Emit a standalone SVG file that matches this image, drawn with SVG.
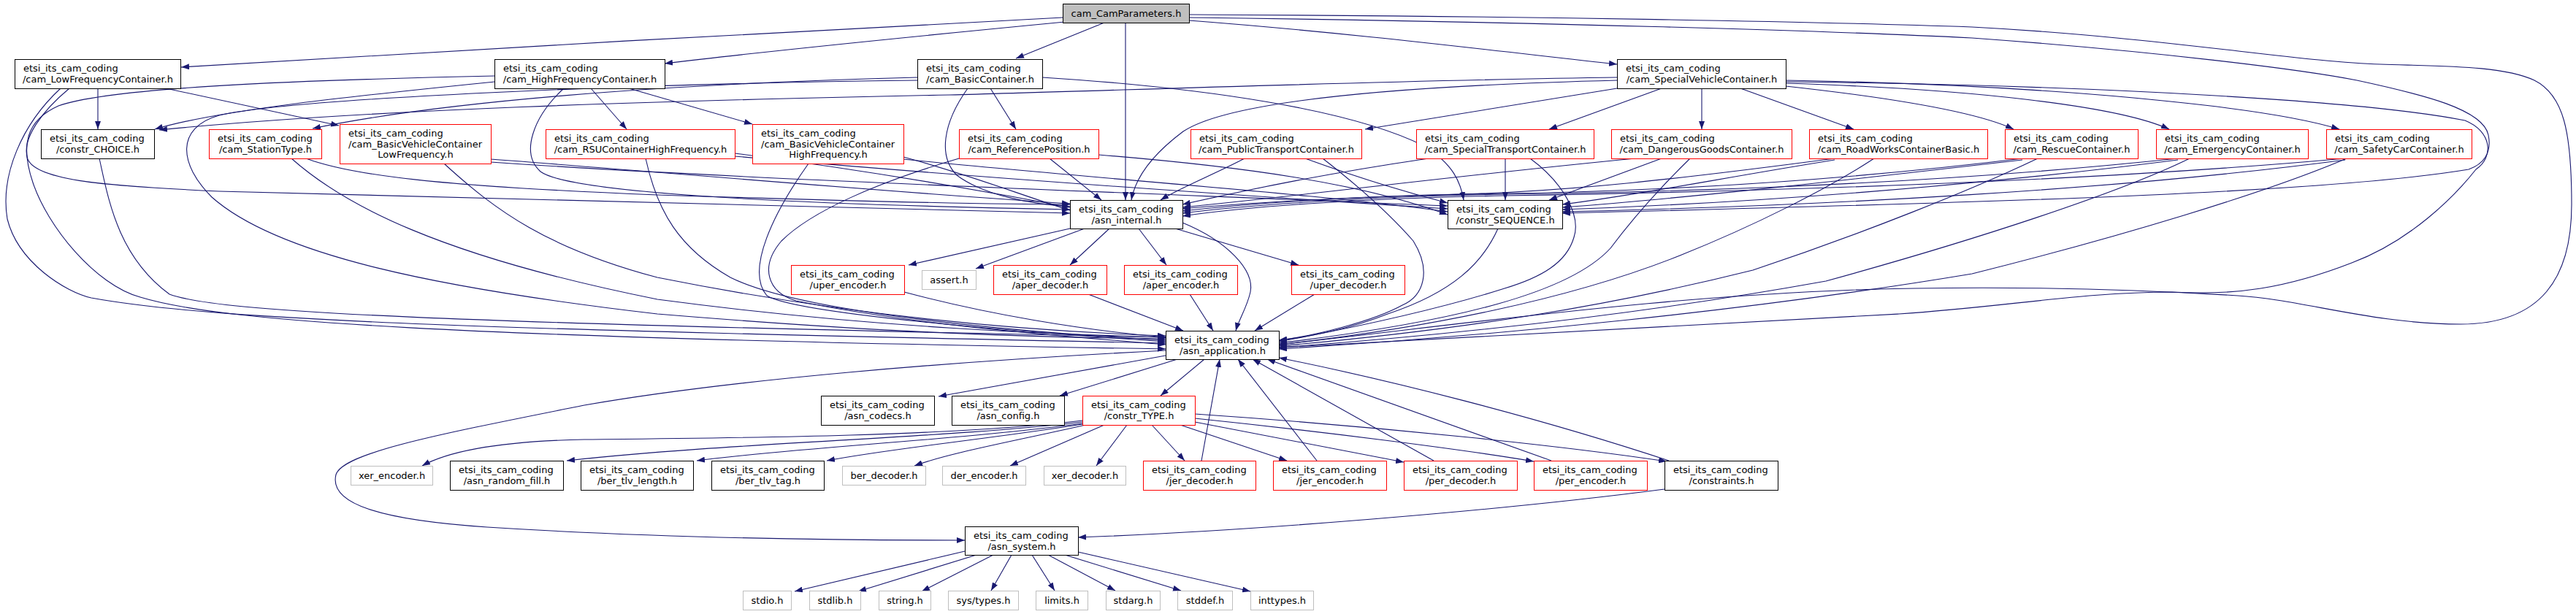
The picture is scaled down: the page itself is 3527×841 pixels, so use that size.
<svg xmlns="http://www.w3.org/2000/svg" width="3527" height="841" viewBox="0 0 3527 841">
<defs>
<marker id="ah" viewBox="0 0 11 8" refX="11" refY="4" markerWidth="11" markerHeight="8" orient="auto" markerUnits="userSpaceOnUse"><path d="M0,0L11,4L0,8z" fill="#191970"/></marker>
<style>
.n rect{fill:#fff;stroke:#000;stroke-width:1}
.r rect{stroke:#f00}
.g rect{stroke:#bfbfbf}
.root rect{fill:#bfbfbf;stroke:#000}
text{font-family:"DejaVu Sans","Liberation Sans",sans-serif;font-size:13px;fill:#000}
.m{text-anchor:middle}
#edges path{fill:none;stroke:#191970;stroke-width:1.1;marker-end:url(#ah)}
</style>
</defs>
<rect width="3527" height="841" fill="#fff"/>
<g id="edges">
<path d="M1455,24 C1100,42 600,70 248,92"/>
<path d="M1458,30 C1250,50 1050,70 910,87"/>
<path d="M1512,31 L1391,80"/>
<path d="M1541,31 L1541,274"/>
<path d="M1628,28 C1850,45 2050,70 2214,88"/>
<path d="M1628,20 C2100,22 2500,30 2700,37 C2950,50 3150,85 3259,88 C3350,91 3427,90 3470,110 C3510,130 3521,180 3521,280 C3521,380 3480,444 3369,444 C3250,444 3150,410 3064,405 C2950,398 2800,392 2621,395 C2300,400 2000,445 1751,472"/>
<path d="M1628,24 C2100,30 2500,42 2700,52 C2950,70 3150,95 3227,110 C3320,130 3400,150 3407,185 C3412,210 3400,225 3380,232 C3200,262 2800,276 2139,292"/>
<path d="M134,121 L134,177"/>
<path d="M227,121 L464,172"/>
<path d="M83,121 C30,170 0,240 10,300 C25,360 90,400 125,408 C300,440 700,452 1596,470"/>
<path d="M95,121 C60,150 28,190 38,218 C50,248 150,255 300,262 C700,275 1100,285 1465,292"/>
<path d="M677,112 C500,130 300,150 212,177"/>
<path d="M677,104 C400,110 150,120 80,145 C35,165 28,200 45,250 C65,310 130,390 192,407 C300,440 600,462 1596,478"/>
<path d="M809,121 L858,177"/>
<path d="M861,121 L1030,170"/>
<path d="M772,121 C730,160 712,210 740,235 C780,265 1100,280 1465,287"/>
<path d="M1256,106 C900,115 600,140 428,176"/>
<path d="M1256,110 C850,115 400,135 300,158 C240,175 245,225 290,270 C380,350 600,395 900,430 C1200,455 1400,462 1596,464"/>
<path d="M1356,121 L1391,177"/>
<path d="M1325,121 C1290,170 1285,215 1310,240 C1350,270 1420,280 1465,283"/>
<path d="M1427,106 C1650,120 1850,150 1950,200 C1990,225 2000,250 2004,274"/>
<path d="M2214,106 C1900,110 1500,125 1300,130 C900,138 500,150 218,178"/>
<path d="M2214,110 C1900,118 1680,140 1620,180 C1580,210 1555,240 1549,274"/>
<path d="M2214,121 L1869,177"/>
<path d="M2275,121 L2121,177"/>
<path d="M2330,121 L2330,177"/>
<path d="M2383,121 L2538,177"/>
<path d="M2445,118 C2600,135 2710,155 2757,177"/>
<path d="M2445,114 C2700,122 2900,145 2970,177"/>
<path d="M2445,110 C2800,116 3100,145 3203,177"/>
<path d="M2445,112 C2900,117 3250,140 3375,165 C3412,180 3415,215 3390,232 C3360,270 3300,330 3220,360 C3130,395 3060,405 2974,400 C2850,400 2750,420 2600,430 C2300,445 2000,462 1751,476"/>
<path d="M136,217 C148,270 160,350 232,403 C300,428 600,442 1596,462"/>
<path d="M399,217 C470,280 600,350 900,410 C1200,450 1450,458 1596,462"/>
<path d="M419,217 C480,240 600,255 900,267 C1150,275 1350,280 1465,280"/>
<path d="M608,224 C680,290 750,340 900,380 C1200,440 1450,455 1596,460"/>
<path d="M672,218 C900,235 1200,262 1465,279"/>
<path d="M672,222 C1000,245 1500,262 1982,282"/>
<path d="M884,217 C900,290 930,340 1000,380 C1100,430 1400,455 1596,466"/>
<path d="M1006,210 C1200,235 1350,262 1465,284"/>
<path d="M1006,214 C1300,240 1700,268 1982,286"/>
<path d="M1107,224 C1060,290 1020,370 1050,405 C1090,430 1400,455 1596,468"/>
<path d="M1237,215 C1330,240 1400,268 1465,288"/>
<path d="M1237,218 C1500,245 1800,265 1982,290"/>
<path d="M1437,217 L1508,274"/>
<path d="M1313,217 C1200,250 1110,290 1070,330 C1040,365 1050,400 1090,412 C1250,445 1450,460 1596,472"/>
<path d="M1504,212 C1700,228 1860,250 1982,294"/>
<path d="M1704,217 C1660,240 1620,255 1589,274"/>
<path d="M1787,217 C1850,240 1920,262 1982,278"/>
<path d="M1811,217 C1860,255 1900,290 1935,330 C1960,370 1950,405 1920,418 C1880,440 1800,460 1751,466"/>
<path d="M1956,217 C1800,240 1700,262 1619,280"/>
<path d="M2061,217 L2061,274"/>
<path d="M2095,217 C2140,250 2165,295 2155,325 C2145,360 2110,380 2060,395 C1950,430 1820,455 1751,468"/>
<path d="M2239,217 C2000,240 1800,266 1619,284"/>
<path d="M2275,217 L2121,274"/>
<path d="M2314,217 C2270,260 2235,300 2205,340 C2150,400 2000,440 1751,470"/>
<path d="M2512,217 C2300,245 2150,262 2000,266 C1850,270 1700,278 1619,286"/>
<path d="M2512,219 C2350,245 2250,266 2139,280"/>
<path d="M2566,217 C2500,260 2400,310 2300,350 C2150,410 1950,450 1751,472"/>
<path d="M2769,217 C2500,250 2250,262 2060,265 C1850,268 1700,280 1619,289"/>
<path d="M2769,219 C2500,250 2300,272 2139,284"/>
<path d="M2790,217 C2700,260 2550,320 2400,370 C2200,420 2000,452 1751,474"/>
<path d="M2982,217 C2650,252 2300,263 2060,266 C1850,270 1700,282 1619,292"/>
<path d="M2982,219 C2700,255 2400,278 2139,287"/>
<path d="M2998,217 C2900,265 2700,330 2500,385 C2250,430 2000,458 1751,476"/>
<path d="M3211,217 C2800,254 2300,264 2060,268 C1850,272 1700,284 1619,296"/>
<path d="M3211,219 C2900,260 2500,282 2139,290"/>
<path d="M3213,217 C3100,265 2900,325 2700,375 C2400,425 2050,460 1751,478"/>
<path d="M1465,313 L1244,363"/>
<path d="M1485,313 L1336,368"/>
<path d="M1519,313 L1465,363"/>
<path d="M1559,313 L1597,363"/>
<path d="M1609,313 L1778,363"/>
<path d="M1619,305 C1680,330 1718,370 1712,400 C1707,422 1696,438 1692,453"/>
<path d="M1238,400 C1350,430 1480,452 1596,462"/>
<path d="M1490,403 L1620,453"/>
<path d="M1629,403 L1661,453"/>
<path d="M1800,403 L1718,453"/>
<path d="M2051,313 C2030,360 1990,400 1900,430 C1850,450 1790,462 1751,466"/>
<path d="M1596,487 L1285,543"/>
<path d="M1612,492 L1451,542"/>
<path d="M1649,492 L1589,542"/>
<path d="M1596,480 C1300,495 1000,520 800,555 C600,595 470,620 460,650 C450,690 520,712 667,722 C900,737 1150,740 1321,740"/>
<path d="M1482,576 C1300,598 1000,600 800,602 C700,604 620,615 578,638"/>
<path d="M1482,578 C1300,600 1000,606 776,631"/>
<path d="M1482,580 C1300,604 1100,612 954,631"/>
<path d="M1482,581 C1350,602 1220,614 1132,631"/>
<path d="M1486,582 C1400,602 1300,620 1252,638"/>
<path d="M1512,582 L1383,638"/>
<path d="M1543,582 L1501,638"/>
<path d="M1577,582 L1622,631"/>
<path d="M1616,582 L1762,631"/>
<path d="M1636,578 C1750,600 1850,620 1922,633"/>
<path d="M1636,573 C1800,590 2000,615 2100,632"/>
<path d="M1636,567 C1900,585 2150,612 2282,632"/>
<path d="M1645,631 L1670,492"/>
<path d="M1803,631 L1695,492"/>
<path d="M1963,631 L1715,492"/>
<path d="M2124,631 L1735,492"/>
<path d="M2285,631 C2100,570 1900,520 1751,490"/>
<path d="M2279,670 C2050,700 1700,728 1476,736"/>
<path d="M1321,755 L1088,810"/>
<path d="M1337,760 L1175,810"/>
<path d="M1360,760 L1262,810"/>
<path d="M1385,760 L1357,809"/>
<path d="M1413,760 L1444,809"/>
<path d="M1435,760 L1527,809"/>
<path d="M1458,760 L1617,809"/>
<path d="M1476,756 L1712,810"/>
</g>
<g id="n-camparameters" class="n root"><rect x="1455.5" y="5.5" width="173" height="26"/><text class="m" x="1542" y="23">cam_CamParameters.h</text></g>
<g id="n-lowfreq" class="n"><rect x="20.5" y="81.5" width="227" height="40"/><text x="32" y="98">etsi_its_cam_coding</text><text class="m" x="134" y="112.5">/cam_LowFrequencyContainer.h</text></g>
<g id="n-highfreq" class="n"><rect x="677.5" y="81.5" width="233" height="40"/><text x="689" y="98">etsi_its_cam_coding</text><text class="m" x="794" y="112.5">/cam_HighFrequencyContainer.h</text></g>
<g id="n-basic" class="n"><rect x="1256.5" y="81.5" width="171" height="40"/><text x="1268" y="98">etsi_its_cam_coding</text><text class="m" x="1342" y="112.5">/cam_BasicContainer.h</text></g>
<g id="n-specialvehicle" class="n"><rect x="2214.5" y="81.5" width="231" height="40"/><text x="2226" y="98">etsi_its_cam_coding</text><text class="m" x="2330" y="112.5">/cam_SpecialVehicleContainer.h</text></g>
<g id="n-choice" class="n"><rect x="56.5" y="177.5" width="155" height="40"/><text x="68" y="194">etsi_its_cam_coding</text><text class="m" x="134" y="208.5">/constr_CHOICE.h</text></g>
<g id="n-stationtype" class="n r"><rect x="286.5" y="177.5" width="154" height="40"/><text x="298" y="194">etsi_its_cam_coding</text><text class="m" x="363.5" y="208.5">/cam_StationType.h</text></g>
<g id="n-bvclow" class="n r"><rect x="465.5" y="170.5" width="207" height="54"/><text x="477" y="187">etsi_its_cam_coding</text><text x="477" y="201.5">/cam_BasicVehicleContainer</text><text class="m" x="569" y="216">LowFrequency.h</text></g>
<g id="n-rsu" class="n r"><rect x="747.5" y="177.5" width="259" height="40"/><text x="759" y="194">etsi_its_cam_coding</text><text class="m" x="877" y="208.5">/cam_RSUContainerHighFrequency.h</text></g>
<g id="n-bvchigh" class="n r"><rect x="1030.5" y="170.5" width="207" height="54"/><text x="1042" y="187">etsi_its_cam_coding</text><text x="1042" y="201.5">/cam_BasicVehicleContainer</text><text class="m" x="1134" y="216">HighFrequency.h</text></g>
<g id="n-refpos" class="n r"><rect x="1313.5" y="177.5" width="191" height="40"/><text x="1325" y="194">etsi_its_cam_coding</text><text class="m" x="1409" y="208.5">/cam_ReferencePosition.h</text></g>
<g id="n-publictransport" class="n r"><rect x="1630.5" y="177.5" width="234" height="40"/><text x="1642" y="194">etsi_its_cam_coding</text><text class="m" x="1747.5" y="208.5">/cam_PublicTransportContainer.h</text></g>
<g id="n-specialtransport" class="n r"><rect x="1939.5" y="177.5" width="243" height="40"/><text x="1951" y="194">etsi_its_cam_coding</text><text class="m" x="2061" y="208.5">/cam_SpecialTransportContainer.h</text></g>
<g id="n-dangerousgoods" class="n r"><rect x="2206.5" y="177.5" width="247" height="40"/><text x="2218" y="194">etsi_its_cam_coding</text><text class="m" x="2330" y="208.5">/cam_DangerousGoodsContainer.h</text></g>
<g id="n-roadworks" class="n r"><rect x="2477.5" y="177.5" width="244" height="40"/><text x="2489" y="194">etsi_its_cam_coding</text><text class="m" x="2599.5" y="208.5">/cam_RoadWorksContainerBasic.h</text></g>
<g id="n-rescue" class="n r"><rect x="2745.5" y="177.5" width="182" height="40"/><text x="2757" y="194">etsi_its_cam_coding</text><text class="m" x="2836.5" y="208.5">/cam_RescueContainer.h</text></g>
<g id="n-emergency" class="n r"><rect x="2952.5" y="177.5" width="208" height="40"/><text x="2964" y="194">etsi_its_cam_coding</text><text class="m" x="3056.5" y="208.5">/cam_EmergencyContainer.h</text></g>
<g id="n-safetycar" class="n r"><rect x="3185.5" y="177.5" width="199" height="40"/><text x="3197" y="194">etsi_its_cam_coding</text><text class="m" x="3285" y="208.5">/cam_SafetyCarContainer.h</text></g>
<g id="n-asninternal" class="n"><rect x="1465.5" y="274.5" width="154" height="39"/><text x="1477" y="291">etsi_its_cam_coding</text><text class="m" x="1542.5" y="305.5">/asn_internal.h</text></g>
<g id="n-sequence" class="n"><rect x="1982.5" y="274.5" width="157" height="39"/><text x="1994" y="291">etsi_its_cam_coding</text><text class="m" x="2061" y="305.5">/constr_SEQUENCE.h</text></g>
<g id="n-uperenc" class="n r"><rect x="1083.5" y="363.5" width="155" height="40"/><text x="1095" y="380">etsi_its_cam_coding</text><text class="m" x="1161" y="394.5">/uper_encoder.h</text></g>
<g id="n-assert" class="n g"><rect x="1262.5" y="370.5" width="74" height="26"/><text class="m" x="1299.5" y="388">assert.h</text></g>
<g id="n-aperdec" class="n r"><rect x="1360.5" y="363.5" width="155" height="40"/><text x="1372" y="380">etsi_its_cam_coding</text><text class="m" x="1438" y="394.5">/aper_decoder.h</text></g>
<g id="n-aperenc" class="n r"><rect x="1539.5" y="363.5" width="155" height="40"/><text x="1551" y="380">etsi_its_cam_coding</text><text class="m" x="1617" y="394.5">/aper_encoder.h</text></g>
<g id="n-uperdec" class="n r"><rect x="1768.5" y="363.5" width="155" height="40"/><text x="1780" y="380">etsi_its_cam_coding</text><text class="m" x="1846" y="394.5">/uper_decoder.h</text></g>
<g id="n-asnapp" class="n"><rect x="1596.5" y="453.5" width="155" height="39"/><text x="1608" y="470">etsi_its_cam_coding</text><text class="m" x="1674" y="484.5">/asn_application.h</text></g>
<g id="n-codecs" class="n"><rect x="1124.5" y="542.5" width="155" height="40"/><text x="1136" y="559">etsi_its_cam_coding</text><text class="m" x="1202" y="573.5">/asn_codecs.h</text></g>
<g id="n-config" class="n"><rect x="1303.5" y="542.5" width="154" height="40"/><text x="1315" y="559">etsi_its_cam_coding</text><text class="m" x="1380.5" y="573.5">/asn_config.h</text></g>
<g id="n-type" class="n r"><rect x="1482.5" y="542.5" width="154" height="40"/><text x="1494" y="559">etsi_its_cam_coding</text><text class="m" x="1559.5" y="573.5">/constr_TYPE.h</text></g>
<g id="n-xerenc" class="n g"><rect x="480.5" y="638.5" width="112" height="26"/><text class="m" x="536.5" y="656">xer_encoder.h</text></g>
<g id="n-randomfill" class="n"><rect x="616.5" y="631.5" width="155" height="40"/><text x="628" y="648">etsi_its_cam_coding</text><text class="m" x="694" y="662.5">/asn_random_fill.h</text></g>
<g id="n-tlvlength" class="n"><rect x="795.5" y="631.5" width="154" height="40"/><text x="807" y="648">etsi_its_cam_coding</text><text class="m" x="872.5" y="662.5">/ber_tlv_length.h</text></g>
<g id="n-tlvtag" class="n"><rect x="974.5" y="631.5" width="154" height="40"/><text x="986" y="648">etsi_its_cam_coding</text><text class="m" x="1051.5" y="662.5">/ber_tlv_tag.h</text></g>
<g id="n-berdec" class="n g"><rect x="1153.5" y="638.5" width="114" height="26"/><text class="m" x="1210.5" y="656">ber_decoder.h</text></g>
<g id="n-derenc" class="n g"><rect x="1290.5" y="638.5" width="114" height="26"/><text class="m" x="1347.5" y="656">der_encoder.h</text></g>
<g id="n-xerdec" class="n g"><rect x="1429.5" y="638.5" width="112" height="26"/><text class="m" x="1485.5" y="656">xer_decoder.h</text></g>
<g id="n-jerdec" class="n r"><rect x="1565.5" y="631.5" width="154" height="40"/><text x="1577" y="648">etsi_its_cam_coding</text><text class="m" x="1642.5" y="662.5">/jer_decoder.h</text></g>
<g id="n-jerenc" class="n r"><rect x="1743.5" y="631.5" width="155" height="40"/><text x="1755" y="648">etsi_its_cam_coding</text><text class="m" x="1821" y="662.5">/jer_encoder.h</text></g>
<g id="n-perdec" class="n r"><rect x="1922.5" y="631.5" width="155" height="40"/><text x="1934" y="648">etsi_its_cam_coding</text><text class="m" x="2000" y="662.5">/per_decoder.h</text></g>
<g id="n-perenc" class="n r"><rect x="2100.5" y="631.5" width="155" height="40"/><text x="2112" y="648">etsi_its_cam_coding</text><text class="m" x="2178" y="662.5">/per_encoder.h</text></g>
<g id="n-constraints" class="n"><rect x="2279.5" y="631.5" width="155" height="40"/><text x="2291" y="648">etsi_its_cam_coding</text><text class="m" x="2357" y="662.5">/constraints.h</text></g>
<g id="n-asnsystem" class="n"><rect x="1321.5" y="721.5" width="155" height="39"/><text x="1333" y="738">etsi_its_cam_coding</text><text class="m" x="1399" y="752.5">/asn_system.h</text></g>
<g id="n-stdio" class="n g"><rect x="1017.5" y="809.5" width="66" height="26"/><text class="m" x="1050.5" y="827">stdio.h</text></g>
<g id="n-stdlib" class="n g"><rect x="1108.5" y="809.5" width="70" height="26"/><text class="m" x="1143.5" y="827">stdlib.h</text></g>
<g id="n-string" class="n g"><rect x="1203.5" y="809.5" width="71" height="26"/><text class="m" x="1239" y="827">string.h</text></g>
<g id="n-systypes" class="n g"><rect x="1298.5" y="809.5" width="96" height="26"/><text class="m" x="1346.5" y="827">sys/types.h</text></g>
<g id="n-limits" class="n g"><rect x="1418.5" y="809.5" width="71" height="26"/><text class="m" x="1454" y="827">limits.h</text></g>
<g id="n-stdarg" class="n g"><rect x="1514.5" y="809.5" width="74" height="26"/><text class="m" x="1551.5" y="827">stdarg.h</text></g>
<g id="n-stddef" class="n g"><rect x="1612.5" y="809.5" width="75" height="26"/><text class="m" x="1650" y="827">stddef.h</text></g>
<g id="n-inttypes" class="n g"><rect x="1712.5" y="809.5" width="86" height="26"/><text class="m" x="1755.5" y="827">inttypes.h</text></g>
</svg>
